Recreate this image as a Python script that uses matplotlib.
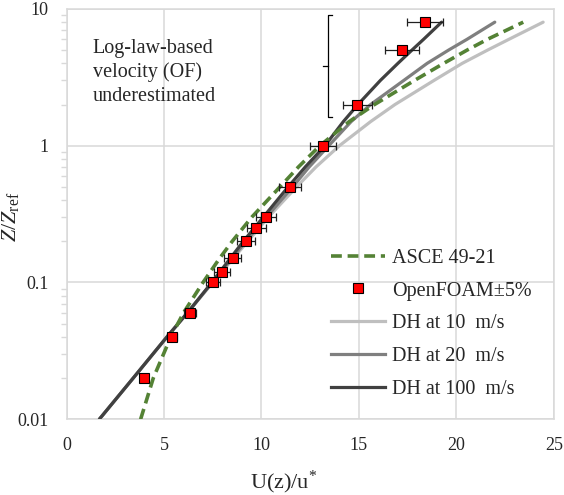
import matplotlib
matplotlib.use('Agg')
import matplotlib.pyplot as plt
from matplotlib.lines import Line2D
from matplotlib.ticker import FixedLocator, FixedFormatter, NullFormatter

plt.rcParams['font.family'] = ['Liberation Serif', 'DejaVu Serif']
plt.rcParams['mathtext.fontset'] = 'custom'
plt.rcParams['mathtext.rm'] = 'Liberation Serif'
plt.rcParams['mathtext.it'] = 'Liberation Serif:italic'

# OpenFOAM points (z/zref, U/u*)
of_z = [0.02, 0.04, 0.06, 0.1, 0.12, 0.15, 0.2, 0.25, 0.3, 0.5, 1, 2, 5, 8]
of_u = [3.95, 5.41, 6.33, 7.51, 7.97, 8.52, 9.2, 9.74, 10.21, 11.46, 13.17, 14.92, 17.22, 18.4]

# ASCE 49-21 profile
asce_z = [0.01, 0.02, 0.04, 0.06, 0.1, 0.15, 0.2, 0.3, 0.5, 0.7, 1, 1.5, 2, 3, 4, 5, 6, 8]
asce_u = [3.8, 4.45, 5.35, 6.0, 7.0, 7.85, 8.5, 9.5, 10.95, 11.9, 13.0, 14.5, 15.8, 17.85, 19.35, 20.55, 21.6, 23.43]

# DH profiles
dh_z = [0.01, 0.02, 0.04, 0.06, 0.1, 0.2, 0.3, 0.5, 0.7, 1, 1.5, 2, 3, 4, 5, 6, 8]
dh10_u = [1.68, 3.42, 5.15, 6.2, 7.5, 9.3, 10.35, 11.8, 12.8, 14.0, 15.6, 16.85, 18.85, 20.3, 21.6, 22.7, 24.45]
dh20_u = [1.68, 3.42, 5.15, 6.2, 7.48, 9.2, 10.25, 11.6, 12.45, 13.45, 14.6, 15.6, 17.3, 18.5, 19.6, 20.55, 21.97]
dh100_u = [1.68, 3.42, 5.15, 6.2, 7.45, 9.07, 10.09, 11.37, 12.25, 13.26, 14.2, 14.95, 16.1, 17.0, 17.72, 18.32, 19.24]

fig = plt.figure(figsize=(5.64, 4.95), dpi=100)
ax = fig.add_axes([0.118, 0.153, 0.864, 0.829])

ax.plot(dh10_u, dh_z, color='#bfbfbf', lw=2.3, solid_capstyle='round', solid_joinstyle='round', zorder=2)
ax.plot(dh20_u, dh_z, color='#7f7f7f', lw=2.3, solid_capstyle='round', solid_joinstyle='round', zorder=2)
ax.plot(dh100_u, dh_z, color='#404040', lw=2.3, solid_capstyle='round', solid_joinstyle='round', zorder=3)
ax.plot(asce_u, asce_z, color='#548235', lw=2.6, dashes=(3, 1.6), zorder=4)

xerr = [0.05 * u for u in of_u]
ax.errorbar(of_u, of_z, xerr=xerr, fmt='none', ecolor='#202020', elinewidth=0.9,
            capsize=3, capthick=0.9, zorder=5)
ax.plot(of_u, of_z, 's', color='#ff0000', mec='black', mew=0.8, ms=6.5, zorder=6)

# bracket
bx = 13.4
ax.plot([bx + 0.2, bx, bx, bx + 0.2], [9.1, 9.1, 1.63, 1.63], color='black', lw=0.9)
ax.plot([bx, bx - 0.22], [3.85, 3.85], color='black', lw=0.9)

ax.text(1.35, 6.0, 'Log-law-based\nvelocity (OF)\nunderestimated', fontsize=14.5,
        color='#262626', va='top', ha='left', linespacing=1.3)

ax.set_yscale('log')
ax.set_xlim(0, 25)
ax.set_ylim(0.01, 10)
ax.set_xticks([0, 5, 10, 15, 20, 25])
ax.yaxis.set_major_locator(FixedLocator([0.01, 0.1, 1, 10]))
ax.yaxis.set_major_formatter(FixedFormatter(['0.01', '0.1', '1', '10']))
ax.yaxis.set_minor_locator(FixedLocator([m * d for d in [0.01, 0.1, 1] for m in range(2, 10)]))
ax.yaxis.set_minor_formatter(NullFormatter())

ax.grid(True, which='major', color='#d9d9d9', lw=1.1)
ax.set_axisbelow(True)
for s in ax.spines.values():
    s.set_color('#d9d9d9')
    s.set_linewidth(1.1)
ax.tick_params(axis='x', length=0, pad=13, labelsize=13, labelcolor='#262626')
ax.tick_params(axis='y', which='major', length=0, pad=13, labelsize=13, labelcolor='#262626')
ax.tick_params(axis='y', which='minor', length=4, width=1, color='#d9d9d9')

ax.set_xlabel(r'U(z)/u$^{*}$', fontsize=16, color='#262626')
ax.xaxis.set_label_coords(0.445, -0.12)
ax.set_ylabel(r'$Z/Z_{\mathrm{ref}}$', fontsize=16, color='#262626')
ax.yaxis.set_label_coords(-0.093, 0.492)

handles = [
    Line2D([], [], color='#548235', lw=2.6, dashes=(3, 1.6)),
    Line2D([], [], ls='none', marker='s', color='#ff0000', mec='black', mew=0.8, ms=6.5),
    Line2D([], [], color='#bfbfbf', lw=2.3),
    Line2D([], [], color='#7f7f7f', lw=2.3),
    Line2D([], [], color='#404040', lw=2.3),
]
labels = ['ASCE 49-21', 'OpenFOAM\u00b15%', 'DH at 10  m/s', 'DH at 20  m/s', 'DH at 100  m/s']
ax.legend(handles, labels, loc='upper left', bbox_to_anchor=(0.505, 0.46), frameon=False,
          fontsize=14.5, handlelength=2.7, handletextpad=0.35, labelspacing=0.68,
          labelcolor='#262626')

fig.savefig('out.png', dpi=100)
